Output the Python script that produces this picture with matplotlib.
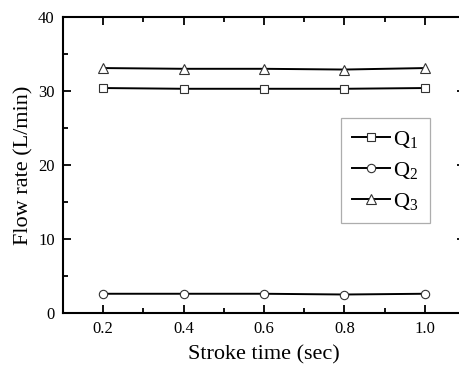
import matplotlib
matplotlib.use("Agg")
import matplotlib.pyplot as plt
from matplotlib.ticker import MultipleLocator

# Data
stroke_time = [0.2, 0.4, 0.6, 0.8, 1.0]
q1 = [30.4, 30.3, 30.3, 30.3, 30.4]
q2 = [2.6, 2.6, 2.6, 2.5, 2.6]
q3 = [33.1, 33.0, 33.0, 32.9, 33.1]
labels = [r"Q$_1$", r"Q$_2$", r"Q$_3$"]

plt.rcParams["font.family"] = ["Liberation Serif", "DejaVu Serif"]
plt.rcParams["mathtext.fontset"] = "custom"
plt.rcParams["mathtext.rm"] = "Liberation Serif"
plt.rcParams["mathtext.it"] = "Liberation Serif:italic"

fig = plt.figure(figsize=(4.59, 3.70), dpi=100)
# axes runs a little past the right edge, like the cropped original
ax = fig.add_axes([63 / 459, 1 - 313 / 370, 402 / 459, 296 / 370])

style = dict(color="black", lw=1.4, mfc="white", mec="#333333", mew=0.8)
ax.plot(stroke_time, q1, marker="s", ms=5.5, label=labels[0], **style)
ax.plot(stroke_time, q2, marker="o", ms=6, label=labels[1], **style)
ax.plot(stroke_time, q3, marker="^", ms=7, label=labels[2], **style)

ax.set_xlim(0.1, 1.1)
ax.set_ylim(0, 40)
ax.xaxis.set_minor_locator(MultipleLocator(0.1))
ax.yaxis.set_major_locator(MultipleLocator(10))
ax.yaxis.set_minor_locator(MultipleLocator(5))
ax.set_xticks(stroke_time)
ax.set_xticklabels(["0.2", "0.4", "0.6", "0.8", "1.0"])

ax.tick_params(which="both", direction="in", top=True, right=True, width=1.3, labelsize=12, pad=6)
ax.tick_params(which="major", length=6)
ax.tick_params(which="minor", length=3.5)
for s in ax.spines.values():
    s.set_linewidth(1.5)

ax.set_xlabel("Stroke time (sec)", fontsize=16, labelpad=6)
ax.set_ylabel("Flow rate (L/min)", fontsize=16, labelpad=3)

leg = ax.legend(loc="upper left", bbox_to_anchor=(0.692, 0.659), borderaxespad=0,
                fontsize=16, numpoints=1, handlelength=1.7, handletextpad=0.15,
                fancybox=False, edgecolor="#999999", labelspacing=0.45,
                borderpad=0.5)
leg.get_frame().set_linewidth(0.9)

fig.savefig("out.png", dpi=100)
